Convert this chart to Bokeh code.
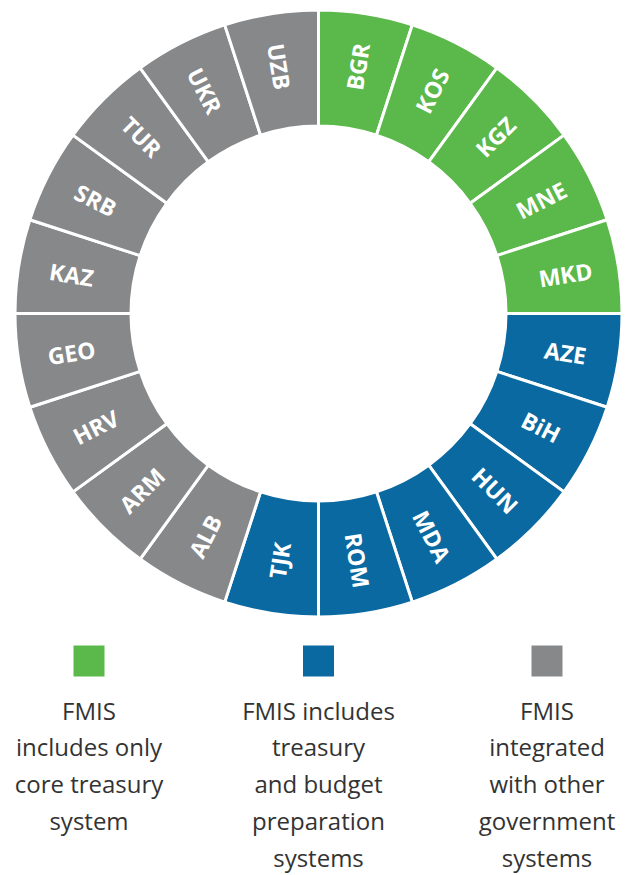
import numpy as np
from bokeh.plotting import figure
from bokeh.models import ColumnDataSource, Range1d
from bokeh.core.properties import value
from bokeh.embed import file_html
from bokeh.resources import INLINE

# ---- data ----
countries = ["BGR", "KOS", "KGZ", "MNE", "MKD",
             "AZE", "BiH", "HUN", "MDA", "ROM", "TJK",
             "ALB", "ARM", "HRV", "GEO", "KAZ", "SRB", "TUR", "UKR", "UZB"]
groups = ["core", "core", "core", "core", "core",
          "budget", "budget", "budget", "budget", "budget", "budget",
          "integrated", "integrated", "integrated", "integrated", "integrated",
          "integrated", "integrated", "integrated", "integrated"]
shares = [1] * 20
group_keys = ["core", "budget", "integrated"]
group_colors = ["#5BB84A", "#0A69A0", "#87888A"]
legend_lines = [
    ["FMIS", "includes only", "core treasury", "system"],
    ["FMIS includes", "treasury", "and budget", "preparation", "systems"],
    ["FMIS", "integrated", "with other", "government", "systems"],
]

# ---- layout (page pixel coordinates, y pointing down -> data y = -px) ----
W, H = 626, 875
cx, cy = 318, -313
r_out, r_in, r_lab = 303.5, 187.5, 250

color_map = dict(zip(group_keys, group_colors))
vals = np.array(shares, dtype=float)
cum = np.concatenate([[0], np.cumsum(vals)]) / vals.sum() * 2 * np.pi
start_top = np.pi / 2
ends = start_top - cum[:-1]
starts = start_top - cum[1:]
mids = (starts + ends) / 2

lab_angle = []
for m in mids:
    d = np.degrees(m) % 360
    if 90 < d < 270:
        lab_angle.append(m - np.pi)
    else:
        lab_angle.append(m)

src = ColumnDataSource(dict(
    start=starts, end=ends, color=[color_map[g] for g in groups],
    name=countries,
    lx=cx + r_lab * np.cos(mids), ly=cy + r_lab * np.sin(mids),
    la=lab_angle,
))

p = figure(width=W, height=H, output_backend="svg", toolbar_location=None,
           x_range=Range1d(0, W), y_range=Range1d(-H, 0),
           min_border=0, outline_line_color=None)
p.axis.visible = False
p.grid.visible = False
p.background_fill_color = "white"
p.border_fill_color = "white"

p.annular_wedge(x=cx, y=cy, inner_radius=r_in, outer_radius=r_out,
                start_angle="start", end_angle="end", fill_color="color",
                line_color="white", line_width=3, source=src)
p.text(x="lx", y="ly", text="name", angle="la", source=src,
       text_font=value("Open Sans"), text_font_style="bold",
       text_font_size="23px", text_color="white",
       text_align="center", text_baseline="middle")

# legend
leg_x = [88.5, 318, 546.5]
sq_y = -660.5
p.rect(x=leg_x, y=[sq_y] * 3, width=31, height=31, fill_color=group_colors,
       line_color=None)
tx, ty, tt = [], [], []
for gx, lines in zip(leg_x, legend_lines):
    for i, t in enumerate(lines):
        tx.append(gx)
        ty.append(-(709.5 + 36.8 * i))
        tt.append(t)
p.text(x=tx, y=ty, text=tt, text_font=value("Open Sans"),
       text_font_size="24px", text_color="#333333",
       text_align="center", text_baseline="middle")

open("out.html", "w").write(file_html(p, INLINE))
